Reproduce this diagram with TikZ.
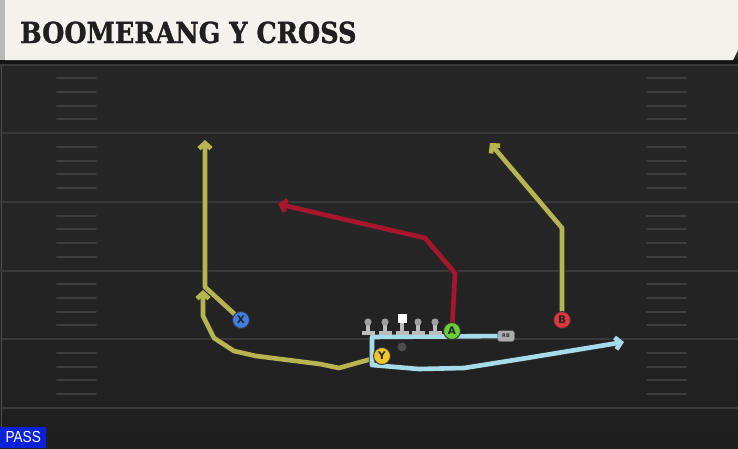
\documentclass[tikz,border=0pt]{standalone}
\usepackage{fontspec}
\usetikzlibrary{arrows.meta}
\newfontfamily\titlefont[BoldFeatures={FakeBold=1.2}]{DejaVu Serif}
\newfontfamily\lettersf{DejaVu Sans}
\newfontfamily\passfont{Liberation Sans}
\pgfdeclarelayer{fieldlayer}
\pgfdeclarelayer{routelayer}
\pgfsetlayers{fieldlayer,routelayer,main}
\definecolor{fieldbg}{HTML}{262626}
\definecolor{fieldbot}{HTML}{1F1F1F}
\definecolor{yard}{HTML}{393939}
\definecolor{hashc}{HTML}{3E3E3E}
\definecolor{cream}{HTML}{F4F2EC}
\definecolor{olive}{HTML}{B7B552}
\definecolor{routered}{HTML}{A8162E}
\definecolor{routeblue}{HTML}{A6DCE9}
\definecolor{pxblue}{HTML}{3F7FE0}
\definecolor{pagreen}{HTML}{6BD037}
\definecolor{pbred}{HTML}{E3353F}
\definecolor{pyyellow}{HTML}{F2C52A}
\definecolor{passblue}{HTML}{0B22DA}
\definecolor{lineman}{HTML}{BDBDBD}
\tikzset{
  route/.style={line width=4.6pt, line join=round, line cap=round,
    preaction={draw=black!85, line width=6.2pt}},
  oliveroute/.style={route, draw=olive},
  redroute/.style={route, draw=routered},
  blueroute/.style={route, draw=routeblue},
  routetip/.style={-{Straight Barb[length=5.5pt,width=12pt]}},
  player/.style={circle, draw=black!80, line width=0.9pt, minimum size=17pt,
    inner sep=0pt, font=\lettersf\bfseries\fontsize{10.5}{10.5}\selectfont, text=black!85},
  yardline/.style={draw=yard, line width=2pt},
  hashmark/.style={draw=hashc, line width=2pt, line cap=round},
  linemanc/.style={fill=lineman},
}
\begin{document}
\begin{tikzpicture}[x=1pt,y=-1pt]
\useasboundingbox (0,0) rectangle (738,448);
\begin{pgfonlayer}{fieldlayer}
  \shade[top color=fieldbg, bottom color=fieldbot, middle color=fieldbg] (0,0) rectangle (738,448);
  \draw[draw=black!70, line width=1pt] (1.5,64) -- (1.5,448);
  \foreach \yl in {64.5,133.2,201.9,270.6,339.3,408} {
    \draw[yardline] (0,\yl) -- (738,\yl);
  }
  \foreach \yl in {64.5,133.2,201.9,270.6,339.3} {
    \foreach \k in {1,2,3,4} {
      \draw[hashmark] (57,\yl+13.7*\k) -- (96,\yl+13.7*\k);
      \draw[hashmark] (647,\yl+13.7*\k) -- (686,\yl+13.7*\k);
    }
  }
  % title bar
  \fill[black!92] (0,59) rectangle (738,64);
  \fill[gray!55] (0,0) rectangle (6,60);
  \fill[cream] (5,0) -- (738,0) -- (738,50) -- (733,60) -- (5,60) -- cycle;
\end{pgfonlayer}
\node[anchor=base west, inner sep=0pt, text=black!88,
  font=\titlefont\bfseries\fontsize{29}{29}\selectfont, xscale=0.88] (title) at (20,43) {BOOMERANG Y CROSS};

% players
\node[player, fill=pxblue] (X) at (241,320) {X};
\node[player, fill=pagreen] (A) at (452,331) {A};
\node[player, fill=pbred] (B) at (562,320) {B};
\node[player, fill=pyyellow] (Y) at (382,356) {Y};
\node[draw=black!70, fill=gray!65, rounded corners=2.5pt, minimum width=17pt, minimum height=11pt,
  inner sep=0pt, font=\lettersf\bfseries\fontsize{5}{5}\selectfont, text=black!80] (RB) at (506,336) {RB};
\node[circle, fill=gray!60!black, minimum size=9pt, inner sep=0pt] (ball) at (402,347) {};

% linemen
\foreach \lx in {368,385,418,435} {
  \fill[linemanc] (\lx-2,322) rectangle (\lx+2,331);
  \fill[linemanc] (\lx-6.5,331) rectangle (\lx+6.5,335);
  \fill[gray!75] (\lx,322) circle (3.6);
}
\fill[linemanc] (400,320) rectangle (404,331);
\fill[linemanc] (395.5,331) rectangle (408.5,335);
\fill[white] (397.5,313.5) rectangle (406.5,322.5);

\begin{pgfonlayer}{routelayer}
  \draw[oliveroute, routetip] (X) -- (205,287) -- (205,140);
  \draw[oliveroute, routetip] (Y) -- (339,368) -- (320,364) -- (256,356) -- (234,351) -- (214,338) -- (203,316) -- (203,290);
  \draw[redroute, routetip] (A) -- (455,273) -- (425,238) -- (278,204);
  \draw[oliveroute, routetip] (B) -- (562,228) -- (490,143);
  \draw[blueroute, routetip] (RB) -- (372,337) -- (372,365) -- (419,369) -- (464,368) -- (527,358) -- (624,342);
\end{pgfonlayer}

\node[fill=passblue, text=white, anchor=south west, minimum width=46pt, minimum height=21pt,
  inner sep=0pt, font=\passfont\fontsize{16}{16}\selectfont] (pass) at (0,448) {\scalebox{0.85}[1]{PASS}};
\end{tikzpicture}
\end{document}
